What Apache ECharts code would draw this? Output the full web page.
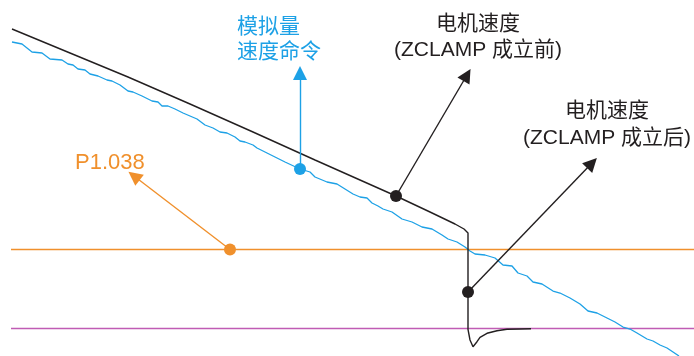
<!DOCTYPE html>
<html>
<head>
<meta charset="utf-8">
<style>
  html, body { margin: 0; padding: 0; background: #fff; }
  #chart { width: 694px; height: 356px; }
</style>
<script src="https://cdn.jsdelivr.net/npm/echarts@6/dist/echarts.min.js"></script>
</head>
<body>
<div id="chart"></div>
<script>
// 模拟量速度命令 (x, y) —— y 轴向下
var speedCmd = [
  [12, 42], [22, 44], [32, 52], [42, 53], [50, 59], [62, 60], [68, 64], [73, 65],
  [78, 69], [85, 70], [90, 74], [98, 76], [107, 80], [112, 81], [120, 85], [128, 91],
  [133, 92], [142, 96], [152, 101], [158, 102], [162, 106], [168, 106], [175, 109],
  [183, 113], [190, 116], [197, 119], [205, 125], [213, 128], [220, 132], [227, 133],
  [235, 137], [240, 141], [245, 142], [253, 145], [257, 148], [267, 153], [275, 157],
  [285, 162], [300, 169], [310, 172], [315, 177], [327, 182], [337, 184], [345, 189],
  [353, 194], [360, 197], [367, 198], [372, 203], [378, 206], [383, 209], [392, 212],
  [402, 219], [412, 222], [422, 227], [432, 229], [442, 235], [448, 239], [457, 242],
  [465, 247], [470, 251], [475, 254], [485, 255], [495, 258], [503, 265], [512, 266],
  [518, 273], [527, 276], [533, 282], [542, 284], [553, 291], [560, 293], [570, 298],
  [580, 304], [588, 311], [597, 313], [607, 318], [615, 322], [623, 327], [630, 329],
  [637, 333], [647, 339], [653, 341], [660, 345], [667, 348], [673, 352], [679, 356]
]

// 电机速度
var motorSpeed = [
  [12, 29], [70, 53], [128, 77], [190, 104], [253, 132], [315, 160], [378, 188],
  [396, 196], [430, 212], [455, 224], [464, 229], [468, 233], [468, 329.3],
  [470, 330.7], [470, 340], [473, 346.7], [477, 341.7], [480, 337.3], [487, 333.3],
  [497, 330.7], [507, 329.3], [520, 329], [531, 328.7]
]

// 水平线
var p1038Level = 249.5
var zeroLevel = 328.5
var levelSpan = [11, 694]

// 标注点与箭头终点
var cmdDot = [300, 169]
var cmdTip = [300, 73]
var beforeDot = [396, 196]
var beforeTip = [467, 75]
var afterDot = [468, 292]
var afterTip = [592, 163]
var p1038Dot = [230, 249.5]
var p1038Tip = [134, 176]

var BLUE = '#1da1e6'
var ORANGE = '#f0902c'
var MAGENTA = '#c05cb4'
var BLACK = '#231f20'
var FONT = '"Liberation Sans", Arial, "Noto Sans CJK SC", sans-serif'

function level(y) {
  return [[levelSpan[0], y], [levelSpan[1], y]]
}

function arrow(from, to, color) {
  return {
    type: 'lines',
    coordinateSystem: 'cartesian2d',
    z: 4,
    symbol: ['none', 'triangle'],
    symbolSize: [12, 14],
    lineStyle: { color: color, width: 1.4, opacity: 1 },
    data: [{ coords: [from, to] }]
  }
}

function dot(p, color) {
  return {
    type: 'scatter',
    z: 5,
    symbolSize: 12,
    itemStyle: { color: color, opacity: 1 },
    data: [p]
  }
}

var chart = echarts.init(document.getElementById('chart'))
chart.setOption({
  animation: false,
  grid: { left: 0, right: 0, top: 0, bottom: 0 },
  xAxis: { type: 'value', min: 0, max: 694, show: false },
  yAxis: { type: 'value', min: 0, max: 356, inverse: true, show: false },
  series: [
    {
      type: 'line',
      data: level(p1038Level),
      showSymbol: false,
      lineStyle: { color: ORANGE, width: 1.6 },
      z: 1
    },
    {
      type: 'line',
      data: level(zeroLevel),
      showSymbol: false,
      lineStyle: { color: MAGENTA, width: 1.6 },
      z: 1
    },
    {
      type: 'line',
      data: speedCmd,
      showSymbol: false,
      lineStyle: { color: BLUE, width: 1.3 },
      z: 2
    },
    {
      type: 'line',
      data: motorSpeed,
      showSymbol: false,
      lineStyle: { color: BLACK, width: 1.4 },
      z: 3
    },
    arrow(cmdDot, cmdTip, BLUE),
    arrow(beforeDot, beforeTip, BLACK),
    arrow(afterDot, afterTip, BLACK),
    arrow(p1038Dot, p1038Tip, ORANGE),
    dot(cmdDot, BLUE),
    dot(beforeDot, BLACK),
    dot(afterDot, BLACK),
    dot(p1038Dot, ORANGE)
  ],
  graphic: [
    {
      type: 'text',
      left: 237,
      top: 15,
      style: { text: '模拟量\n速度命令', fill: BLUE, font: '21px ' + FONT, lineHeight: 25 }
    },
    {
      type: 'text',
      x: 478,
      y: 37,
      style: {
        text: '电机速度\n(ZCLAMP 成立前)', fill: BLACK, font: '21px ' + FONT,
        lineHeight: 26, align: 'center', verticalAlign: 'middle'
      }
    },
    {
      type: 'text',
      x: 607,
      y: 125,
      style: {
        text: '电机速度\n(ZCLAMP 成立后)', fill: BLACK, font: '21px ' + FONT,
        lineHeight: 27, align: 'center', verticalAlign: 'middle'
      }
    },
    {
      type: 'text',
      x: 75,
      y: 163,
      style: { text: 'P1.038', fill: ORANGE, font: '22px ' + FONT, verticalAlign: 'middle' }
    }
  ]
})
</script>
</body>
</html>
